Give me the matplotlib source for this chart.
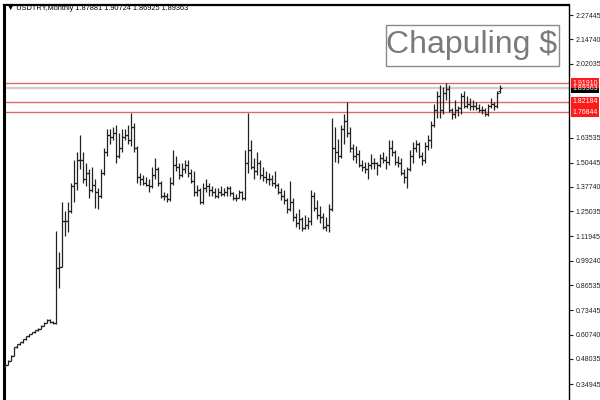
import numpy as np
import matplotlib
matplotlib.use("Agg")
import matplotlib.pyplot as plt
from matplotlib.patches import Rectangle

# USDTRY monthly bars, Sep 1999 .. Jun 2013
opens = [
    .440, .450, .472, .498,
    .541, .558, .568, .583, .598, .610, .620, .630, .638, .652, .670, .684,
    .672, .670, .955, .960, 1.200, 1.200, 1.250, 1.380, 1.400, 1.520, 1.520, 1.420,
    1.450, 1.360, 1.390, 1.350, 1.330, 1.450, 1.560, 1.650, 1.640, 1.660, 1.540, 1.580,
    1.640, 1.650, 1.620, 1.690, 1.580, 1.430, 1.420, 1.400, 1.390, 1.380, 1.440, 1.470,
    1.400, 1.330, 1.330, 1.315, 1.400, 1.490, 1.480, 1.440, 1.470, 1.490, 1.450, 1.410,
    1.350, 1.360, 1.300, 1.370, 1.380, 1.360, 1.350, 1.330, 1.350, 1.340, 1.350, 1.370,
    1.345, 1.320, 1.320, 1.350, 1.320, 1.500, 1.570, 1.480, 1.460, 1.500, 1.440, 1.430,
    1.420, 1.420, 1.400, 1.390, 1.350, 1.330, 1.310, 1.260, 1.300, 1.220, 1.190, 1.210,
    1.165, 1.180, 1.200, 1.330, 1.270, 1.230, 1.220, 1.170, 1.180, 1.260, 1.580, 1.560,
    1.540, 1.680, 1.720, 1.660, 1.580, 1.540, 1.550, 1.490, 1.480, 1.470, 1.490, 1.500,
    1.500, 1.490, 1.530, 1.520, 1.510, 1.580, 1.560, 1.510, 1.500, 1.450, 1.430, 1.470,
    1.540, 1.580, 1.600, 1.540, 1.520, 1.590, 1.620, 1.700, 1.780, 1.850, 1.780, 1.870,
    1.890, 1.780, 1.760, 1.780, 1.790, 1.850, 1.800, 1.810, 1.800, 1.800, 1.790, 1.780,
    1.780, 1.760, 1.800, 1.810, 1.800, 1.87881,
]
highs = [
    .452, .475, .500, .545,
    .560, .570, .585, .600, .612, .622, .632, .640, .655, .672, .690, .688,
    .680, 1.147, 1.040, 1.300, 1.250, 1.300, 1.400, 1.520, 1.560, 1.650, 1.560, 1.500,
    1.470, 1.480, 1.420, 1.370, 1.470, 1.580, 1.680, 1.680, 1.690, 1.700, 1.660, 1.680,
    1.680, 1.700, 1.766, 1.710, 1.590, 1.450, 1.440, 1.430, 1.420, 1.480, 1.530, 1.480,
    1.410, 1.350, 1.345, 1.430, 1.570, 1.540, 1.500, 1.500, 1.520, 1.520, 1.470, 1.460,
    1.390, 1.370, 1.400, 1.420, 1.400, 1.380, 1.370, 1.370, 1.380, 1.370, 1.380, 1.380,
    1.350, 1.340, 1.360, 1.355, 1.570, 1.766, 1.620, 1.530, 1.560, 1.520, 1.480, 1.460,
    1.450, 1.440, 1.460, 1.400, 1.370, 1.360, 1.320, 1.410, 1.320, 1.240, 1.260, 1.220,
    1.230, 1.220, 1.360, 1.350, 1.310, 1.280, 1.240, 1.220, 1.290, 1.740, 1.690, 1.630,
    1.700, 1.760, 1.820, 1.690, 1.600, 1.590, 1.570, 1.520, 1.510, 1.510, 1.550, 1.530,
    1.510, 1.550, 1.560, 1.540, 1.620, 1.620, 1.570, 1.540, 1.530, 1.470, 1.480, 1.570,
    1.610, 1.620, 1.610, 1.560, 1.610, 1.650, 1.720, 1.810, 1.880, 1.910, 1.900, 1.920,
    1.910, 1.790, 1.830, 1.800, 1.870, 1.880, 1.850, 1.840, 1.830, 1.820, 1.810, 1.800,
    1.790, 1.810, 1.840, 1.820, 1.880, 1.90724,
]
lows = [
    .437, .448, .470, .496,
    .538, .555, .566, .581, .596, .608, .618, .628, .636, .650, .668, .668,
    .663, .665, .850, .960, 1.120, 1.140, 1.240, 1.300, 1.360, 1.470, 1.400, 1.380,
    1.320, 1.350, 1.270, 1.260, 1.320, 1.440, 1.540, 1.600, 1.620, 1.500, 1.530, 1.560,
    1.620, 1.600, 1.590, 1.560, 1.400, 1.390, 1.390, 1.380, 1.350, 1.370, 1.420, 1.380,
    1.320, 1.310, 1.300, 1.305, 1.390, 1.460, 1.420, 1.430, 1.450, 1.430, 1.400, 1.330,
    1.330, 1.290, 1.290, 1.350, 1.330, 1.330, 1.320, 1.320, 1.330, 1.330, 1.330, 1.330,
    1.310, 1.305, 1.320, 1.310, 1.310, 1.450, 1.470, 1.420, 1.440, 1.420, 1.410, 1.400,
    1.390, 1.380, 1.370, 1.340, 1.310, 1.290, 1.240, 1.250, 1.200, 1.170, 1.160, 1.150,
    1.160, 1.160, 1.180, 1.250, 1.210, 1.190, 1.160, 1.150, 1.140, 1.250, 1.510, 1.500,
    1.530, 1.600, 1.640, 1.560, 1.520, 1.500, 1.480, 1.460, 1.450, 1.420, 1.470, 1.470,
    1.440, 1.480, 1.500, 1.470, 1.490, 1.540, 1.490, 1.480, 1.440, 1.400, 1.370, 1.460,
    1.500, 1.560, 1.530, 1.490, 1.500, 1.570, 1.580, 1.690, 1.740, 1.740, 1.760, 1.830,
    1.770, 1.730, 1.740, 1.750, 1.760, 1.790, 1.790, 1.780, 1.780, 1.780, 1.770, 1.760,
    1.750, 1.750, 1.790, 1.780, 1.790, 1.86925,
]
closes = [
    .450, .472, .498, .541,
    .558, .568, .583, .598, .610, .620, .630, .638, .652, .670, .684, .672,
    .670, .955, .960, 1.200, 1.200, 1.250, 1.380, 1.400, 1.520, 1.520, 1.420, 1.450,
    1.360, 1.390, 1.350, 1.330, 1.450, 1.560, 1.650, 1.640, 1.660, 1.540, 1.580, 1.640,
    1.650, 1.620, 1.690, 1.580, 1.430, 1.420, 1.400, 1.390, 1.380, 1.440, 1.470, 1.400,
    1.330, 1.330, 1.315, 1.400, 1.490, 1.480, 1.440, 1.470, 1.490, 1.450, 1.410, 1.350,
    1.360, 1.300, 1.370, 1.380, 1.360, 1.350, 1.330, 1.350, 1.340, 1.350, 1.370, 1.345,
    1.320, 1.320, 1.350, 1.320, 1.500, 1.570, 1.480, 1.460, 1.500, 1.440, 1.430, 1.420,
    1.420, 1.400, 1.390, 1.350, 1.330, 1.310, 1.260, 1.300, 1.220, 1.190, 1.210, 1.165,
    1.180, 1.200, 1.330, 1.270, 1.230, 1.220, 1.170, 1.180, 1.260, 1.580, 1.560, 1.540,
    1.680, 1.720, 1.660, 1.580, 1.540, 1.550, 1.490, 1.480, 1.470, 1.490, 1.500, 1.500,
    1.490, 1.530, 1.520, 1.510, 1.580, 1.560, 1.510, 1.500, 1.450, 1.430, 1.470, 1.540,
    1.580, 1.600, 1.540, 1.520, 1.590, 1.620, 1.700, 1.780, 1.850, 1.780, 1.870, 1.890,
    1.780, 1.760, 1.780, 1.790, 1.850, 1.800, 1.810, 1.800, 1.800, 1.790, 1.780, 1.780,
    1.760, 1.800, 1.810, 1.800, 1.870, 1.89363,
]

price_ticks = [2.27445, 2.14740, 2.02035, 1.63535, 1.50445, 1.37740, 1.25035,
               1.11945, 0.99240, 0.86535, 0.73445, 0.60740, 0.48035, 0.34945]
level_lines = [1.91910, 1.82184, 1.76844]
last_price = 1.89363
title = "\u25bc USDTRY,Monthly 1.87881 1.90724 1.86925 1.89363"
watermark = "Chapuling $"

W, H = 600, 400
fig = plt.figure(figsize=(W / 100, H / 100), dpi=100)
fig.patch.set_facecolor("white")

# axes box in pixels: left 4, right 569, top 5, bottom 400
ax = fig.add_axes([4 / W, 0, 565 / W, 395 / H])
ymin, ymax = 0.266, 2.327
ax.set_ylim(ymin, ymax)
ax.set_xlim(-1 / 3, -1 / 3 + 565 / 3)

x = np.arange(len(closes))
bar_col = "#222222"
ax.vlines(x, lows, highs, color=bar_col, linewidth=0.9, zorder=3)
ax.hlines(opens, x - 0.7, x, color=bar_col, linewidth=0.9, zorder=3)
ax.hlines(closes, x, x + 0.7, color=bar_col, linewidth=0.9, zorder=3)

# horizontal levels
for lv in level_lines:
    ax.axhline(lv, color="#e06a6a", linewidth=1.0, zorder=2)
ax.axhline(last_price, color="#cfcfcf", linewidth=1.6, zorder=1)

# axis styling
ax.spines["bottom"].set_visible(False)
ax.spines["left"].set_linewidth(2.2)
ax.spines["top"].set_linewidth(1.6)
ax.spines["right"].set_linewidth(1.0)
for s in ["left", "top", "right"]:
    ax.spines[s].set_color("black")
ax.set_xticks([])
ax.yaxis.tick_right()
ax.set_yticks(price_ticks)
ax.set_yticklabels(["%.5f" % v for v in price_ticks])
ax.tick_params(axis="y", direction="out", length=3, width=0.8, pad=1.5,
               labelsize=5.0, labelcolor="#222222", color="#222222")
for lab in ax.get_yticklabels():
    lab.set_family("Liberation Sans")

# price labels on the right scale
px = (H - 5) / (ymax - ymin)  # pixels per price unit
box_h = 10 / px
tr = ax.get_yaxis_transform()
x0 = (571 - 4) / 565
bw = 28 / 565


def price_tag(v, face):
    ax.add_patch(Rectangle((x0, v - box_h / 2), bw, box_h, transform=tr,
                           facecolor=face, edgecolor="none", clip_on=False, zorder=5))
    ax.text(x0 + bw / 2, v, "%.5f" % v, transform=tr, ha="center", va="center",
            fontsize=5.0, color="white", family="Liberation Sans",
            clip_on=False, zorder=6)


price_tag(last_price, "black")
for lv in level_lines:
    price_tag(lv, "#ff1a1a")

# chart title
fig.text(7 / W, 1 - 9 / H, title, fontsize=5.3, color="black",
         family=["Liberation Sans", "DejaVu Sans"], va="center", ha="left")

# watermark box
fig.patches.append(Rectangle((386 / W, 1 - 66 / H), 173 / W, 41 / H,
                             transform=fig.transFigure, facecolor="white",
                             edgecolor="#8a8a8a", linewidth=1.0, zorder=4))
fig.text(472 / W, 1 - 45.5 / H, watermark, fontsize=23, color="#7a7a7a",
         family="Liberation Sans", ha="center", va="center", zorder=5)

fig.savefig("out.png", dpi=100)
